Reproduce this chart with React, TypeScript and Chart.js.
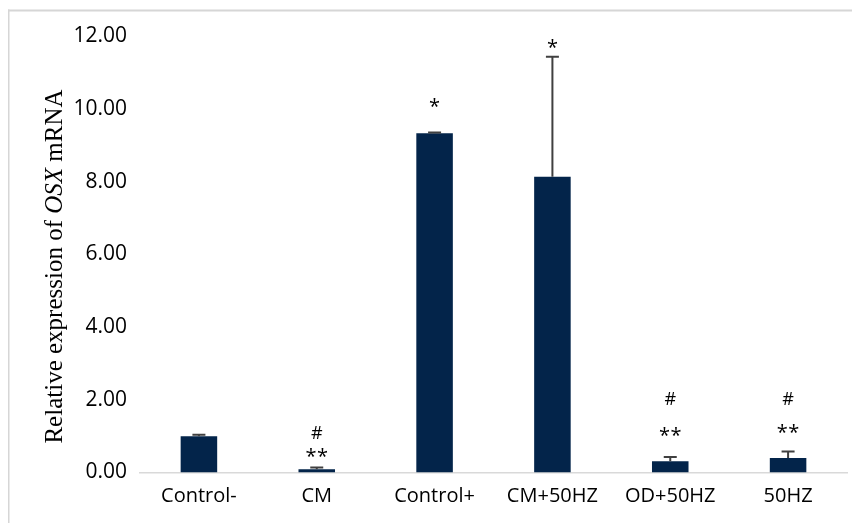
import { useEffect, useRef } from "react";
import { Chart, registerables } from "chart.js";

Chart.register(...registerables);

const categories = ["Control-", "CM", "Control+", "CM+50HZ", "OD+50HZ", "50HZ"];
const meanValues = [1.0, 0.09, 9.34, 8.14, 0.31, 0.4];
const errorValues = [0.04, 0.05, 0.02, 3.3, 0.12, 0.18];
const starLabels = ["", "**", "*", "*", "**", "**"];
const starLevels = [null, 0.56, 10.2, 11.83, 1.14, 1.22];
const hashLabels = ["", "#", "", "", "#", "#"];
const hashLevels = [null, 1.11, null, null, 2.05, 2.03];
const yTicks = [0, 2, 4, 6, 8, 10, 12];

const BAR_COLOR = "#03244a";
const TEXT_FONT = "'Open Sans', sans-serif";

const framePlugin = {
  id: "frame",
  beforeDraw(chart: any) {
    const { ctx, width, height } = chart;
    ctx.save();
    ctx.fillStyle = "#d6d6d6";
    ctx.fillRect(0, 1.5, width, 2);
    ctx.fillRect(0, 1.5, 1.5, height);
    ctx.restore();
  },
};

const errorBarPlugin = {
  id: "errorBars",
  afterDatasetsDraw(chart: any) {
    const { ctx } = chart;
    const meta = chart.getDatasetMeta(0);
    const yScale = chart.scales.y;
    ctx.save();
    ctx.strokeStyle = "#404040";
    ctx.lineWidth = 2;
    meta.data.forEach((bar: any, i: number) => {
      const top = yScale.getPixelForValue(meanValues[i] + errorValues[i]);
      const base = bar.y;
      ctx.beginPath();
      ctx.moveTo(bar.x, base);
      ctx.lineTo(bar.x, top);
      ctx.moveTo(bar.x - 6.5, top);
      ctx.lineTo(bar.x + 6.5, top);
      ctx.stroke();
    });
    ctx.restore();
  },
};

const annotationPlugin = {
  id: "sigMarks",
  afterDatasetsDraw(chart: any) {
    const { ctx } = chart;
    const meta = chart.getDatasetMeta(0);
    const yScale = chart.scales.y;
    ctx.save();
    ctx.fillStyle = "#000";
    ctx.textAlign = "center";
    ctx.textBaseline = "alphabetic";
    meta.data.forEach((bar: any, i: number) => {
      const s = starLevels[i];
      const label = starLabels[i];
      if (s !== null && label) {
        const cy = yScale.getPixelForValue(s);
        ctx.font = `20px ${TEXT_FONT}`;
        const n = label.length;
        for (let k = 0; k < n; k++) {
          const dx = (k - (n - 1) / 2) * 11.5;
          ctx.fillText("*", bar.x + dx, cy + 11);
        }
      }
      const h = hashLevels[i];
      if (h !== null && hashLabels[i]) {
        const cy = yScale.getPixelForValue(h);
        ctx.font = `18px ${TEXT_FONT}`;
        ctx.fillText(hashLabels[i], bar.x, cy + 6.5);
      }
    });
    ctx.restore();
  },
};

const yTitlePlugin = {
  id: "yTitle",
  afterDraw(chart: any) {
    const { ctx } = chart;
    const parts = [
      { t: "Relative expression of ", f: "25px 'Liberation Serif', serif" },
      { t: "OSX", f: "italic 25px 'Liberation Serif', serif" },
      { t: " mRNA", f: "25px 'Liberation Serif', serif" },
    ];
    ctx.save();
    let total = 0;
    const widths = parts.map((p) => {
      ctx.font = p.f;
      const w = ctx.measureText(p.t).width;
      total += w;
      return w;
    });
    ctx.translate(54, 258.5);
    ctx.rotate(-Math.PI / 2);
    ctx.fillStyle = "#000";
    ctx.textBaseline = "alphabetic";
    ctx.textAlign = "left";
    let x = -total / 2;
    parts.forEach((p, i) => {
      ctx.font = p.f;
      ctx.fillText(p.t, x, 0);
      x += widths[i];
    });
    ctx.restore();
  },
};

export default function App() {
  const canvasRef = useRef<HTMLCanvasElement>(null);

  useEffect(() => {
    if (!canvasRef.current) return;
    const chart = new Chart(canvasRef.current, {
      type: "bar",
      data: {
        labels: categories,
        datasets: [
          {
            data: meanValues,
            backgroundColor: BAR_COLOR,
            borderWidth: 0,
            categoryPercentage: 1,
            barPercentage: 0.31,
          },
        ],
      },
      options: {
        animation: false,
        responsive: true,
        maintainAspectRatio: false,
        layout: { padding: { top: 28.5, right: 13, left: 0, bottom: 0 } },
        plugins: {
          legend: { display: false },
          tooltip: { enabled: false },
        },
        scales: {
          x: {
            grid: { display: false, drawTicks: false },
            border: { display: true, color: "#d9d9d9", width: 1.5 },
            ticks: {
              color: "#000",
              font: { family: TEXT_FONT, size: 20 },
              padding: 12,
              maxRotation: 0,
            },
            afterFit(scale: any) {
              scale.height = 50.5;
            },
          },
          y: {
            min: 0,
            max: 12,
            afterBuildTicks(scale: any) {
              scale.ticks = yTicks.map((v) => ({ value: v }));
            },
            grid: { display: false, drawTicks: false },
            border: { display: false },
            ticks: {
              color: "#000",
              font: { family: TEXT_FONT, size: 21 },
              padding: 13,
              callback: (v: any) => Number(v).toFixed(2),
            },
            afterFit(scale: any) {
              scale.width = 132;
            },
          },
        },
      },
      plugins: [framePlugin, errorBarPlugin, annotationPlugin, yTitlePlugin],
    });
    return () => chart.destroy();
  }, []);

  return (
    <div style={{ width: 852, height: 515, position: "relative" }}>
      <canvas ref={canvasRef} />
    </div>
  );
}
